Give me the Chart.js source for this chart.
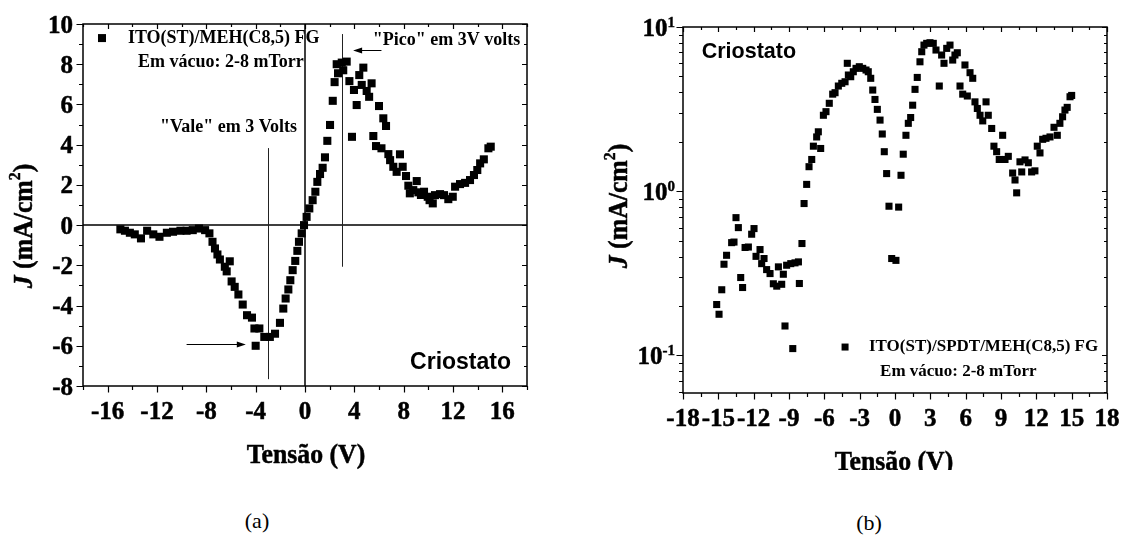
<!DOCTYPE html>
<html>
<head>
<meta charset="utf-8">
<script src="https://cdn.jsdelivr.net/npm/chart.js@4.4.1/dist/chart.umd.min.js"></script>
<style>
  html, body { margin: 0; padding: 0; background: #fff; }
  body { width: 1148px; height: 553px; position: relative; overflow: hidden; }
  canvas { position: absolute; top: 0; }
  #chartA { left: 0; }
  #chartB { left: 570px; }
  .cap { position: absolute; font-family: 'Liberation Serif', serif; font-size: 22px;
         transform: translate(-50%, -50%); color: #000; }
</style>
</head>
<body>
<canvas id="chartA" width="560" height="480"></canvas>
<canvas id="chartB" width="578" height="470"></canvas>
<div class="cap" style="left:257px;top:521px">(a)</div>
<div class="cap" style="left:869px;top:523px">(b)</div>
<script>
// ---------------- DATA (a) ----------------

const voltageA = [
  -14.97, -14.6, -14.2, -13.8, -13.3, -12.8, -12.3, -11.8, -11.2, -10.7,
  -10.1, -9.6, -9.1, -8.6, -8.1, -7.75, -7.5, -7.3, -7.1, -6.9,
  -6.5, -6.1, -6.35, -5.95, -5.7, -5.4, -5.05, -4.7, -4.3, -4.1,
  -3.7, -4.0, -3.3, -2.85, -2.43, -2.03, -1.76, -1.57, -1.35, -1.19,
  -1.0, -0.79, -0.62, -0.49, -0.27, -0.08, 0.13, 0.35, 0.62, 0.84,
  1.0, 1.22, 1.43, 1.62, 1.81, 2.03, 2.25, 2.4, 2.68, 2.57,
  2.98, 3.38, 3.1, 3.6, 3.97, 4.19, 3.81, 4.4, 4.73, 4.6,
  5.0, 5.2, 5.4, 6.0, 6.35, 6.57, 5.54, 5.76, 6.2, 6.76,
  6.9, 7.7, 7.16, 7.43, 7.92, 8.19, 8.38, 9.06, 8.78, 9.19,
  8.5, 9.4, 9.65, 9.95, 10.1, 10.36, 10.54, 10.95, 11.27, 11.62,
  11.98, 12.17, 12.57, 12.98, 13.38, 13.7, 13.97, 14.2, 14.5, 14.87,
  15.06
];
const currentA = [
  -0.21, -0.28, -0.38, -0.46, -0.66, -0.28, -0.46, -0.58, -0.38, -0.33,
  -0.28, -0.28, -0.25, -0.17, -0.25, -0.41, -0.83, -1.16, -1.46, -1.71,
  -2.07, -1.8, -2.3, -2.8, -3.07, -3.45, -3.95, -4.48, -4.6, -5.14,
  -5.14, -6.0, -5.56, -5.56, -5.4, -4.86, -4.15, -3.65, -3.2, -2.74,
  -2.24, -1.78, -1.28, -0.83, -0.41, 0, 0.41, 0.83, 1.24, 1.66,
  2.15, 2.54, 2.85, 3.37, 4.19, 4.98, 6.18, 7.11, 7.55, 8.0,
  8.08, 8.13, 7.7, 7.16, 6.72, 5.97, 4.39, 7.46, 7.83, 6.97,
  6.67, 6.38, 7.05, 5.92, 5.31, 4.93, 4.43, 3.93, 3.82, 3.53,
  3.23, 3.52, 2.9, 2.65, 2.9, 2.44, 1.96, 2.19, 1.74, 1.63,
  1.58, 1.5, 1.66, 1.41, 1.24, 1.08, 1.49, 1.54, 1.49, 1.29,
  1.41, 1.91, 2.04, 2.1, 2.24, 2.49, 2.74, 3.07, 3.27, 3.82,
  3.9
];

const xTicksA = [-16, -12, -8, -4, 0, 4, 8, 12, 16];
const xMinorA = [-18, -14, -10, -6, -2, 2, 6, 10, 14, 18];
const yTicksA = [-8, -6, -4, -2, 0, 2, 4, 6, 8, 10];
const yMinorA = [-7, -5, -3, -1, 1, 3, 5, 7, 9];

// ---------------- DATA (b) ----------------

const voltageB = [
  -15.14, -14.94, -14.71, -14.52, -14.3, -13.87, -13.67, -13.5, -13.3, -13.1,
  -12.94, -12.73, -12.45, -12.17, -11.97, -11.8, -11.46, -11.32, -11.12, -10.9,
  -10.61, -10.33, -10.04, -9.9, -9.62, -9.48, -9.34, -9.2, -8.85, -8.68,
  -8.49, -8.2, -8.12, -7.9, -7.72, -7.5, -7.3, -7.07, -6.93, -6.65,
  -6.51, -6.31, -6.08, -5.86, -5.58, -5.29, -5.09, -4.81, -4.52, -4.24,
  -4.05, -3.96, -3.76, -3.54, -3.31, -3.03, -2.74, -2.46, -2.27, -2.06,
  -1.89, -1.7, -1.5, -1.27, -1.08, -0.91, -0.71, -0.51, -0.28, 0.08,
  0.31, 0.51, 0.7, 0.93, 1.13, 1.33, 1.5, 1.7, 1.89, 2.12,
  2.27, 2.46, 2.69, 2.97, 3.25, 3.48, 3.76, 3.96, 4.16, 4.39,
  4.67, 4.9, 5.09, 5.29, 5.52, 5.75, 5.94, 6.14, 6.37, 6.6,
  6.79, 6.99, 7.22, 7.45, 7.73, 7.92, 8.21, 8.4, 8.63, 8.85,
  9.14, 9.34, 9.62, 9.99, 10.19, 10.33, 10.61, 10.76, 11.04, 11.32,
  11.6, 11.88, 12.08, 12.31, 12.54, 12.82, 13.16, 13.5, 13.78, 14.0,
  14.23, 14.43, 14.62, 14.86, 15.0
];
const currentB = [
  0.204, 0.178, 0.251, 0.359, 0.407, 0.486, 0.49, 0.69, 0.6, 0.298,
  0.259, 0.454, 0.457, 0.547, 0.592, 0.401, 0.441, 0.362, 0.389, 0.333,
  0.315, 0.273, 0.264, 0.346, 0.271, 0.312, 0.151, 0.354, 0.362, 0.11,
  0.366, 0.371, 0.274, 0.48, 0.841, 1.10, 1.41, 1.56, 1.88, 2.14,
  2.3, 1.82, 2.9, 3.05, 3.43, 3.9, 3.98, 4.37, 4.54, 4.64,
  6.01, 5.1, 4.98, 5.34, 5.6, 5.73, 5.6, 5.47, 5.34, 4.87,
  4.13, 3.62, 3.15, 2.71, 2.23, 1.74, 1.28, 0.81, 0.389, 0.379,
  0.80, 1.25, 1.68, 2.19, 2.59, 2.81, 3.34, 4.17, 4.93, 6.14,
  7.07, 7.76, 7.95, 8.02, 7.95, 7.24, 4.37, 6.75, 6.01, 7.41,
  7.76, 6.29, 6.75, 6.97, 4.37, 3.9, 5.87, 3.8, 5.27, 4.87,
  3.5, 3.19, 2.9, 2.68, 3.5, 2.9, 2.41, 1.88, 1.74, 1.56,
  2.19, 1.56, 1.63, 1.29, 1.17, 0.977, 1.51, 1.31, 1.55, 1.49,
  1.31, 1.33, 1.88, 1.71, 2.07, 2.1, 2.14, 2.45, 2.19, 2.59,
  2.84, 3.12, 3.24, 3.76, 3.83
];

const xTicksB = [-18, -15, -12, -9, -6, -3, 0, 3, 6, 9, 12, 15, 18];
const xMinorB = [-16.5, -13.5, -10.5, -7.5, -4.5, -1.5, 1.5, 4.5, 7.5, 10.5, 13.5, 16.5];
const yTicksB = [0.1, 1, 10];
const yExpB = ['-1', '0', '1'];
const yMinorB = [0.06, 0.07, 0.08, 0.09, 0.2, 0.3, 0.4, 0.5, 0.6, 0.7, 0.8, 0.9,
                 2, 3, 4, 5, 6, 7, 8, 9];

// ---------------- ANNOTATIONS (data units) ----------------

const refLinesA = [
  { x: -3, from: -7.66, to: 3.83 },
  { x: 3, from: -2.07, to: 9.5 }
];
const arrowsA = [
  { x1: -9.6, x2: -4.8, y: -5.89 },
  { x1: 6.2, x2: 3.9, y: 8.7 }
];
const notesA = [
  { text: '"Vale" em 3 Volts', x: -11.76, y: 4.88 },
  { text: '"Pico" em 3V volts', x: 5.49, y: 9.17 }
];
const legendA = { mark: [-16.46, 9.3], line1: [-14.36, 9.3], line2: ['Em vácuo: 2-8 mTorr', -13.54, 8.11] };
const criostatoA = [8.52, -6.85];

const legendB = { mark: [-4.24, 0.1124], line1: [-2.21, 0.1124], line2: ['Em vácuo: 2-8 mTorr', -1.27, 0.0799] };
const criostatoB = [-16.41, 7.07];

const SERIF = "'Liberation Serif', 'Times New Roman', serif";
const SANS = "'Liberation Sans', Arial, sans-serif";
const TICK_FONT = `bold 25px ${SERIF}`;

// ---------------- HELPERS ----------------

function toPoints(xs, ys) {
  return xs.map((v, i) => ({ x: v, y: ys[i] }));
}

function text(ctx, t, x, y, font, align, base, stroke) {
  ctx.font = font;
  ctx.textAlign = align || 'left';
  ctx.textBaseline = base || 'middle';
  ctx.fillStyle = '#000';
  ctx.fillText(t, x, y);
  if (stroke) {
    ctx.strokeStyle = '#000';
    ctx.lineWidth = stroke;
    ctx.strokeText(t, x, y);
  }
}

function fmt(v) {
  return String(v).replace('\u2212', '-');
}

function drawFrame(chart, t) {
  const { ctx, chartArea: a, scales: { x, y } } = chart;
  ctx.save();
  ctx.strokeStyle = '#000';
  ctx.lineWidth = 1.2;
  ctx.beginPath();
  const vx = (vals, out, inn) => vals.forEach(v => {
    const p = Math.round(x.getPixelForValue(v)) + 0.5;
    ctx.moveTo(p, a.bottom); ctx.lineTo(p, a.bottom + out);
    ctx.moveTo(p, a.top); ctx.lineTo(p, a.top + inn);
  });
  const vy = (vals, out, inn) => vals.forEach(v => {
    const p = Math.round(y.getPixelForValue(v)) + 0.5;
    ctx.moveTo(a.left, p); ctx.lineTo(a.left - out, p);
    ctx.moveTo(a.right, p); ctx.lineTo(a.right - inn, p);
  });
  vx(t.xMajor, 6.5, 5); vx(t.xMinor, 4, 3);
  vy(t.yMajor, 6.5, 5); vy(t.yMinor, 4, 3);
  ctx.stroke();
  ctx.lineWidth = 1.5;
  ctx.strokeRect(a.left, a.top, a.right - a.left, a.bottom - a.top);
  // bottom tick labels
  t.xMajor.forEach(v => {
    text(ctx, fmt(v), x.getPixelForValue(v), a.bottom + 33, TICK_FONT, 'center', 'alphabetic', 0.5);
  });
  if (t.yLabels) {
    t.yMajor.forEach(v => {
      text(ctx, fmt(v), a.left - 10, y.getPixelForValue(v) + 8.5, TICK_FONT, 'right', 'alphabetic', 0.5);
    });
  }
  ctx.restore();
}

// axis title squeezed a little, like the original's narrow bold serif
function xTitle(ctx, cx, base) {
  ctx.save();
  ctx.translate(cx, base);
  ctx.scale(0.92, 1);
  text(ctx, 'Tensão (V)', 0, 0, `bold 28px ${SERIF}`, 'center', 'alphabetic', 0.5);
  ctx.restore();
}

// rotated y title: J (mA/cm2)
function yTitle(ctx, bx, cy, size) {
  const parts = [
    { t: 'J', f: `italic bold ${size}px ${SERIF}`, dy: 0 },
    { t: ' (mA/cm', f: `bold ${size}px ${SERIF}`, dy: 0 },
    { t: '2', f: `bold ${Math.round(size * 0.6)}px ${SERIF}`, dy: -size * 0.42 },
    { t: ')', f: `bold ${size}px ${SERIF}`, dy: 0 }
  ];
  ctx.save();
  let total = 0;
  parts.forEach(p => { ctx.font = p.f; p.w = ctx.measureText(p.t).width; total += p.w; });
  ctx.translate(bx, cy);
  ctx.rotate(-Math.PI / 2);
  ctx.scale(0.92, 1);
  let cx = -total / 2;
  parts.forEach(p => {
    text(ctx, p.t, cx, p.dy, p.f, 'left', 'alphabetic', 0.5);
    cx += p.w;
  });
  ctx.restore();
}

function arrow(ctx, x1, y1, x2, y2) {
  const dir = Math.sign(x2 - x1);
  ctx.beginPath();
  ctx.moveTo(x1, y1); ctx.lineTo(x2 - dir * 6, y2);
  ctx.stroke();
  ctx.beginPath();
  ctx.moveTo(x2, y2);
  ctx.lineTo(x2 - dir * 9, y2 - 3);
  ctx.lineTo(x2 - dir * 9, y2 + 3);
  ctx.closePath();
  ctx.fill();
}

function baseOptions(xMin, xMax, yType, yMin, yMax, pad, xH, yW, xTicks, yTicks) {
  return {
    responsive: false,
    animation: false,
    layout: { padding: pad },
    plugins: { legend: { display: false }, tooltip: { enabled: false } },
    scales: {
      x: {
        type: 'linear', min: xMin, max: xMax,
        grid: { display: false, drawTicks: false }, border: { display: false },
        afterBuildTicks: s => { s.ticks = xTicks.map(v => ({ value: v })); },
        afterFit: s => { s.height = xH; },
        ticks: { display: false }
      },
      y: {
        type: yType, min: yMin, max: yMax,
        grid: { display: false, drawTicks: false }, border: { display: false },
        afterBuildTicks: s => { s.ticks = yTicks.map(v => ({ value: v })); },
        afterFit: s => { s.width = yW; },
        ticks: { display: false }
      }
    }
  };
}

// ---------------- CHART (a) ----------------

const chartA = new Chart(document.getElementById('chartA'), {
  type: 'scatter',
  data: {
    datasets: [{
      label: 'ITO(ST)/MEH(C8,5) FG',
      data: toPoints(voltageA, currentA),
      pointStyle: 'rect', pointRadius: 5.7, pointBorderWidth: 0,
      backgroundColor: '#000', borderColor: '#000'
    }]
  },
  options: baseOptions(-18, 18, 'linear', -8, 10,
    { left: 0, top: 24, right: 33, bottom: 0 }, 480 - 386, 83, xTicksA, yTicksA),
  plugins: [{
    id: 'decorA',
    beforeDatasetsDraw(chart) {
      const { ctx, chartArea: a, scales: { x, y } } = chart;
      ctx.save();
      ctx.strokeStyle = '#000';
      ctx.lineWidth = 1.5;
      ctx.beginPath();
      const y0 = y.getPixelForValue(0), x0 = x.getPixelForValue(0);
      ctx.moveTo(a.left, y0); ctx.lineTo(a.right, y0);
      ctx.moveTo(x0, a.top); ctx.lineTo(x0, a.bottom);
      ctx.stroke();
      ctx.strokeStyle = '#222';
      ctx.lineWidth = 1;
      ctx.beginPath();
      refLinesA.forEach(r => {
        const px = Math.round(x.getPixelForValue(r.x)) + 0.5;
        ctx.moveTo(px, y.getPixelForValue(r.to));
        ctx.lineTo(px, y.getPixelForValue(r.from));
      });
      ctx.stroke();
      ctx.restore();
    },
    afterDraw(chart) {
      const { ctx, chartArea: a, scales: { x, y } } = chart;
      drawFrame(chart, { xMajor: xTicksA, xMinor: xMinorA, yMajor: yTicksA, yMinor: yMinorA, yLabels: true });
      ctx.save();
      ctx.strokeStyle = '#000'; ctx.fillStyle = '#000'; ctx.lineWidth = 1;
      arrowsA.forEach(r => {
        const py = Math.round(y.getPixelForValue(r.y)) + 0.5;
        arrow(ctx, x.getPixelForValue(r.x1), py, x.getPixelForValue(r.x2), py);
      });
      const f18 = `bold 18px ${SERIF}`;
      notesA.forEach(n => text(ctx, n.text, x.getPixelForValue(n.x), y.getPixelForValue(n.y), f18));
      // legend
      const mx = x.getPixelForValue(legendA.mark[0]), my = y.getPixelForValue(legendA.mark[1]);
      ctx.fillRect(mx - 4, my - 4, 8, 8);
      text(ctx, chart.data.datasets[0].label, x.getPixelForValue(legendA.line1[0]), y.getPixelForValue(legendA.line1[1]), f18);
      text(ctx, legendA.line2[0], x.getPixelForValue(legendA.line2[1]), y.getPixelForValue(legendA.line2[2]), f18);
      text(ctx, 'Criostato', x.getPixelForValue(criostatoA[0]), y.getPixelForValue(criostatoA[1]), `bold 23px ${SANS}`);
      // axis titles
      xTitle(ctx, (a.left + a.right) / 2 + 1, 463);
      yTitle(ctx, 32, 226, 28);
      ctx.restore();
    }
  }]
});

// ---------------- CHART (b) ----------------

const chartB = new Chart(document.getElementById('chartB'), {
  type: 'scatter',
  data: {
    datasets: [{
      label: 'ITO(ST)/SPDT/MEH(C8,5) FG',
      data: toPoints(voltageB, currentB),
      pointStyle: 'rect', pointRadius: 5, pointBorderWidth: 0,
      backgroundColor: '#000', borderColor: '#000'
    }]
  },
  options: baseOptions(-18, 18, 'logarithmic', 0.059, 10,
    { left: 0, top: 27, right: 41, bottom: 0 }, 470 - 393, 113, xTicksB, yTicksB),
  plugins: [{
    id: 'decorB',
    afterDraw(chart) {
      const { ctx, chartArea: a, scales: { x, y } } = chart;
      drawFrame(chart, { xMajor: xTicksB, xMinor: xMinorB, yMajor: yTicksB, yMinor: yMinorB, yLabels: false });
      ctx.save();
      // log tick labels 10^n
      yTicksB.forEach((v, i) => {
        const py = y.getPixelForValue(v);
        ctx.font = `bold 15px ${SERIF}`;
        const ew = ctx.measureText(yExpB[i]).width;
        const right = a.left - 8;
        text(ctx, yExpB[i], right, py, `bold 15px ${SERIF}`, 'right', 'alphabetic', 0.4);
        text(ctx, '10', right - ew, py + 8.5, TICK_FONT, 'right', 'alphabetic', 0.5);
      });
      const f17 = `bold 17px ${SERIF}`;
      const mx = x.getPixelForValue(legendB.mark[0]), my = y.getPixelForValue(legendB.mark[1]);
      ctx.fillStyle = '#000';
      ctx.fillRect(mx - 3.5, my - 3.5, 7, 7);
      text(ctx, chart.data.datasets[0].label, x.getPixelForValue(legendB.line1[0]), y.getPixelForValue(legendB.line1[1]), f17);
      text(ctx, legendB.line2[0], x.getPixelForValue(legendB.line2[1]), y.getPixelForValue(legendB.line2[2]), f17);
      text(ctx, 'Criostato', x.getPixelForValue(criostatoB[0]), y.getPixelForValue(criostatoB[1]), `bold 21.5px ${SANS}`);
      xTitle(ctx, 324, 470);
      yTitle(ctx, 57, 206, 28);
      ctx.restore();
    }
  }]
});
</script>
</body>
</html>
